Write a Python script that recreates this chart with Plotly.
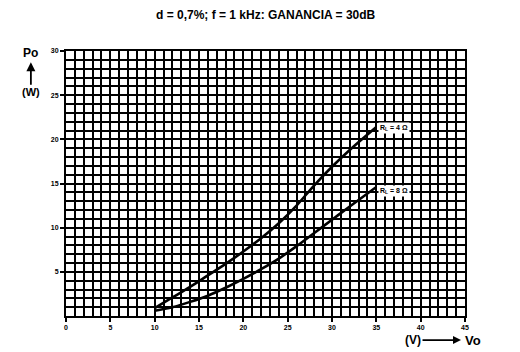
import plotly.graph_objects as go

# Data
vo_4ohm = [10, 12, 14, 16, 18, 20, 22, 24, 26, 28, 30, 32, 35]
po_4ohm = [0.9, 2.1, 3.3, 4.6, 5.9, 7.3, 8.8, 10.5, 12.5, 14.8, 16.9, 18.8, 21.4]
vo_8ohm = [10, 12, 14, 16, 18, 20, 22, 24, 26, 28, 30, 32, 35]
po_8ohm = [0.6, 1.0, 1.6, 2.3, 3.2, 4.2, 5.3, 6.5, 7.9, 9.4, 10.9, 12.4, 14.6]

x_tickvals = [0, 5, 10, 15, 20, 25, 30, 35, 40, 45]
x_ticktext = ["0", "5", "10", "15", "20", "25", "30", "35", "40", "45"]
y_tickvals = [5, 10, 15, 20, 25, 30]
y_ticktext = ["5", "10", "15", "20", "25", "30"]

title_text = "d = 0,7%; f = 1 kHz: GANANCIA = 30dB"
label_4 = "R<sub>L</sub> = 4 Ω"
label_8 = "R<sub>L</sub> = 8 Ω"

FONT = "Liberation Sans"

fig = go.Figure()
fig.add_trace(go.Scatter(x=vo_4ohm, y=po_4ohm, mode="lines",
                         line=dict(color="black", width=2.6, shape="spline", smoothing=1.0),
                         showlegend=False, hoverinfo="skip"))
fig.add_trace(go.Scatter(x=vo_8ohm, y=po_8ohm, mode="lines",
                         line=dict(color="black", width=2.6, shape="spline", smoothing=1.0),
                         showlegend=False, hoverinfo="skip"))

axis_common = dict(
    showgrid=True, gridcolor="black", gridwidth=2,
    showline=True, linecolor="black", linewidth=2, mirror=True,
    ticks="outside", ticklen=4, tickwidth=2, tickcolor="black",
    tickfont=dict(family=FONT, size=7, color="black", weight="bold"),
    zeroline=False, fixedrange=True,
    minor=dict(dtick=1, showgrid=True, gridcolor="black", gridwidth=2, ticks=""),
)

fig.update_xaxes(range=[0, 45], tickvals=x_tickvals, ticktext=x_ticktext, **axis_common)
fig.update_yaxes(range=[0, 30], tickvals=y_tickvals, ticktext=y_ticktext, **axis_common)

bold = lambda s: dict(family=FONT, size=s, color="black", weight="bold")

annotations = [
    dict(x=0.5, y=1, xref="paper", yref="paper", yshift=36, text=title_text, showarrow=False,
         font=bold(12), xanchor="center", yanchor="middle"),
    dict(x=35.2, y=21.3, text=label_4, showarrow=False, xanchor="left", yanchor="middle",
         bgcolor="white", font=bold(7), borderpad=1),
    dict(x=35.2, y=14.2, text=label_8, showarrow=False, xanchor="left", yanchor="middle",
         bgcolor="white", font=bold(7), borderpad=1),
    dict(x=-0.090, y=0.992, xref="paper", yref="paper", text="Po", showarrow=False,
         xanchor="center", yanchor="middle", font=bold(12)),
    # "(W)" with the arrow pointing up toward "Po"
    dict(x=-0.088, y=0.958, xref="paper", yref="paper", ax=0, ay=30, text="(W)", showarrow=True,
         arrowhead=2, arrowsize=1, arrowwidth=1.8, arrowcolor="black", standoff=0, startstandoff=0,
         font=bold(11)),
    # "(V)" with the arrow pointing right toward "Vo"
    dict(x=0.990, y=-0.091, xref="paper", yref="paper", ax=-48, ay=0, text="(V)", showarrow=True,
         arrowhead=2, arrowsize=1, arrowwidth=1.6, arrowcolor="black", standoff=0, startstandoff=0,
         font=bold(12)),
    dict(x=1.020, y=-0.091, xref="paper", yref="paper", text="Vo", showarrow=False,
         xanchor="center", yanchor="middle", font=bold(13)),
]

fig.update_layout(
    width=520, height=352,
    margin=dict(l=66, r=55, t=51, b=36),
    paper_bgcolor="white", plot_bgcolor="white",
    annotations=annotations,
    showlegend=False,
)

fig.write_html("out.html", config={"displayModeBar": False})
